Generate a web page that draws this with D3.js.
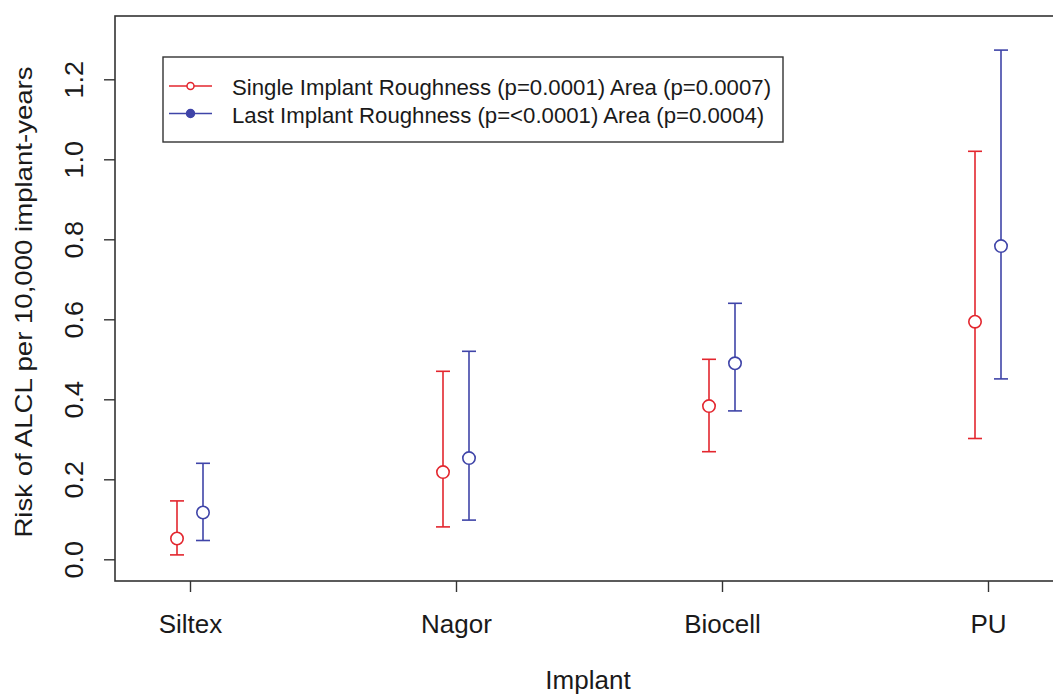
<!DOCTYPE html>
<html>
<head>
<meta charset="utf-8">
<script src="https://cdn.jsdelivr.net/npm/d3@7"></script>
<style>
  body { margin: 0; background: #fff; }
  svg { display: block; font-family: "Liberation Sans", Arial, sans-serif; }
</style>
</head>
<body>
<svg id="chart" width="1053" height="695"></svg>
<script>
// data
const implants = ["Siltex", "Nagor", "Biocell", "PU"];
const singleEst = [0.052, 0.218, 0.383, 0.594];
const singleLow = [0.011, 0.081, 0.269, 0.302];
const singleHigh = [0.146, 0.470, 0.500, 1.020];
const lastEst = [0.117, 0.253, 0.490, 0.783];
const lastLow = [0.047, 0.098, 0.371, 0.451];
const lastHigh = [0.240, 0.520, 0.640, 1.273];
const yTicks = [0, 0.2, 0.4, 0.6, 0.8, 1.0, 1.2];
const legendLabels = [
    "Single Implant Roughness (p=0.0001) Area (p=0.0007)",
    "Last Implant Roughness (p=<0.0001) Area (p=0.0004)"
];

const red = "#e3262e";
const blue = "#3f44a8";
const axisCol = "#333";
const textCol = "#1a1a1a";

const svg = d3.select("#chart");

// plot box (right edge falls outside the picture, like the reference)
const box = {left: 115, top: 16, right: 1062, bottom: 581};

const x = d3.scalePoint().domain(implants).range([190, 988]);
const y = d3.scaleLinear().domain([0, 1.2]).range([559.3, 79.3]);

const series = [
    {est: singleEst, low: singleLow, high: singleHigh, color: red, dx: -13},
    {est: lastEst, low: lastLow, high: lastHigh, color: blue, dx: 13}
];

// box
svg.append("rect")
    .attr("x", box.left).attr("y", box.top)
    .attr("width", box.right - box.left).attr("height", box.bottom - box.top)
    .attr("fill", "none").attr("stroke", axisCol).attr("stroke-width", 1.6);

// y axis, labels turned sideways like R's default
const yAxis = svg.append("g")
    .attr("transform", "translate(" + box.left + ",0)")
    .call(d3.axisLeft(y).tickValues(yTicks).tickSize(11).tickFormat(d3.format(".1f")));
yAxis.select(".domain").remove();
yAxis.selectAll("line").attr("stroke", axisCol).attr("stroke-width", 1.4);
yAxis.selectAll("text")
    .attr("fill", textCol)
    .attr("font-size", 25)
    .attr("text-anchor", "middle")
    .attr("x", 0).attr("y", 0).attr("dy", null)
    .attr("transform", "translate(-32,0) rotate(-90) scale(1.08,1)");

// x axis
const xAxis = svg.append("g")
    .attr("transform", "translate(0," + box.bottom + ")")
    .call(d3.axisBottom(x).tickSize(11).tickPadding(23));
xAxis.select(".domain").remove();
xAxis.selectAll("line").attr("stroke", axisCol).attr("stroke-width", 1.4);
xAxis.selectAll("text").attr("fill", textCol).attr("font-size", 26);

// axis titles
svg.append("text")
    .attr("x", 588).attr("y", 689)
    .attr("text-anchor", "middle")
    .attr("font-size", 26).attr("fill", textCol)
    .text("Implant");

svg.append("text")
    .attr("transform", "translate(32,302) rotate(-90) scale(1.2,1)")
    .attr("text-anchor", "middle")
    .attr("font-size", 23).attr("fill", textCol)
    .text("Risk of ALCL per 10,000 implant-years");

// error bars and points
const cap = 7;
series.forEach(function (s) {
    const g = svg.append("g")
        .attr("stroke", s.color)
        .attr("stroke-width", 1.6)
        .attr("fill", "none");
    implants.forEach(function (name, i) {
        const cx = x(name) + s.dx;
        g.append("line")
            .attr("x1", cx).attr("x2", cx)
            .attr("y1", y(s.low[i])).attr("y2", y(s.high[i]));
        g.append("line")
            .attr("x1", cx - cap).attr("x2", cx + cap)
            .attr("y1", y(s.low[i])).attr("y2", y(s.low[i]));
        g.append("line")
            .attr("x1", cx - cap).attr("x2", cx + cap)
            .attr("y1", y(s.high[i])).attr("y2", y(s.high[i]));
        g.append("circle")
            .attr("cx", cx).attr("cy", y(s.est[i]))
            .attr("r", 6.2)
            .attr("fill", "#fff");
    });
});

// legend
const leg = svg.append("g");
leg.append("rect")
    .attr("x", 163).attr("y", 57)
    .attr("width", 620).attr("height", 85)
    .attr("fill", "#fff").attr("stroke", axisCol).attr("stroke-width", 1.4);

legendLabels.forEach(function (label, i) {
    const ly = 86 + i * 27.5;
    const col = i === 0 ? red : blue;
    leg.append("line")
        .attr("x1", 169).attr("x2", 212)
        .attr("y1", ly).attr("y2", ly)
        .attr("stroke", col).attr("stroke-width", 1.5);
    leg.append("circle")
        .attr("cx", 190.5).attr("cy", ly)
        .attr("r", i === 0 ? 3.5 : 4)
        .attr("fill", i === 0 ? "#fff" : col)
        .attr("stroke", col).attr("stroke-width", 1.5);
    leg.append("text")
        .attr("x", 232).attr("y", ly + 9)
        .attr("font-size", 22.2).attr("fill", textCol)
        .text(label);
});
</script>
</body>
</html>
